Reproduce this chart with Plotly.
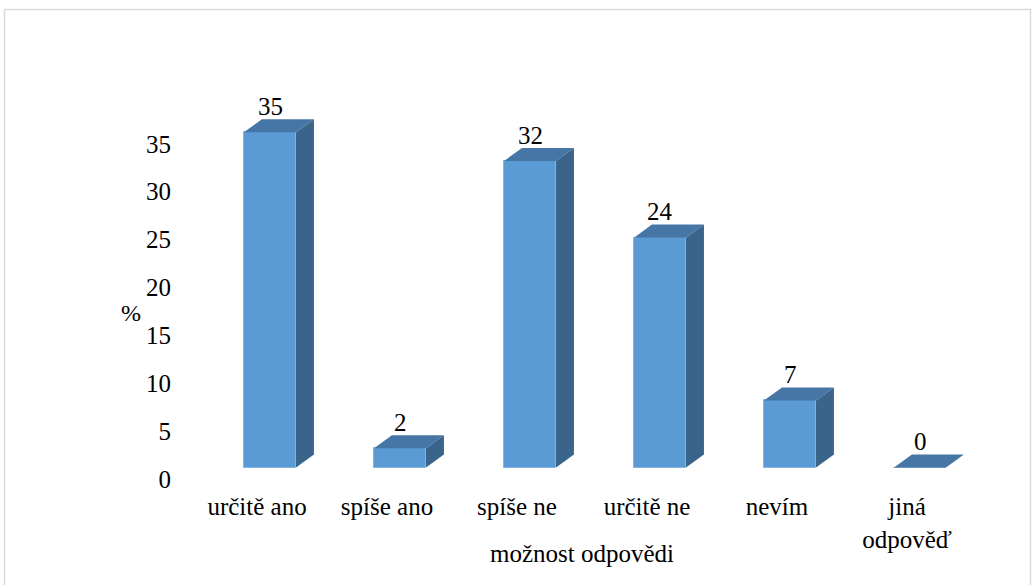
import plotly.graph_objects as go

# Survey answers (percent of respondents)
categories = ["určitě ano", "spíše ano", "spíše ne", "určitě ne", "nevím", "jiná<br>odpověď"]
values = [35, 2, 32, 24, 7, 0]
y_ticks = [0, 5, 10, 15, 20, 25, 30, 35]

FONT = "Liberation Serif, DejaVu Serif, serif"
FRONT = "#5B9BD5"
TOP = "#4676A6"
SIDE = "#3A6489"

# pseudo-3D geometry (in axis units)
FLOOR = 1.2          # lift of the front face above the axis zero
FRONT_L, FRONT_R = -0.1, 0.3   # front face extent relative to the category position
DEPTH_X, DEPTH_Y = 0.138, 1.36  # receding offset of the back edges

xs = list(range(len(categories)))

fig = go.Figure()

# front faces
fig.add_trace(go.Bar(
    x=[x + (FRONT_L + FRONT_R) / 2 for x in xs],
    y=values,
    base=[FLOOR] * len(values),
    width=FRONT_R - FRONT_L,
    marker=dict(color=FRONT, line=dict(color="#86B4E2", width=1)),
    hoverinfo="skip",
    showlegend=False,
))

for x, v in zip(xs, values):
    xl, xr = x + FRONT_L, x + FRONT_R
    yb, yt = FLOOR, FLOOR + v
    # top face
    fig.add_trace(go.Scatter(
        x=[xl, xr, xr + DEPTH_X, xl + DEPTH_X, xl],
        y=[yt, yt, yt + DEPTH_Y, yt + DEPTH_Y, yt],
        fill="toself", fillcolor=TOP, mode="lines", line=dict(width=0),
        hoverinfo="skip", showlegend=False,
    ))
    # side face
    if v > 0:
        fig.add_trace(go.Scatter(
            x=[xr, xr + DEPTH_X, xr + DEPTH_X, xr, xr],
            y=[yb, yb + DEPTH_Y, yt + DEPTH_Y, yt, yb],
            fill="toself", fillcolor=SIDE, mode="lines", line=dict(width=0),
            hoverinfo="skip", showlegend=False,
        ))
    # value label
    fig.add_annotation(
        x=(xl + xr) / 2, y=yt + 2.7, text=str(v), showarrow=False,
        xref="x", yref="y", yanchor="middle",
        font=dict(family=FONT, size=25, color="black"),
    )

fig.add_annotation(
    x=(118.5 - 192) / 780, y=(479 - 313) / 431, xref="paper", yref="paper",
    text="%", showarrow=False, font=dict(family=FONT, size=24, color="black"),
)
fig.add_annotation(
    x=(582 - 192) / 780, y=(479 - 569) / 431, xref="paper", yref="paper",
    text="možnost odpovědi", showarrow=False,
    font=dict(family=FONT, size=25, color="black"),
)

# chart frame
fig.add_shape(
    type="rect", xref="paper", yref="paper",
    x0=(4.5 - 192) / 780, x1=(1030.5 - 192) / 780,
    y0=(479 - 600) / 431, y1=(479 - 9.5) / 431,
    line=dict(color="#D9D9D9", width=1.5), fillcolor="rgba(0,0,0,0)", layer="below",
)

fig.update_layout(
    width=1035, height=585,
    margin=dict(l=192, r=63, t=48, b=106),
    paper_bgcolor="white", plot_bgcolor="white",
    bargap=0,
    font=dict(family=FONT, size=25, color="black"),
    xaxis=dict(
        range=[-0.5, 5.5], tickmode="array", tickvals=xs, ticktext=categories,
        showgrid=False, zeroline=False, showline=False, ticks="",
        ticklabelstandoff=10,
        tickfont=dict(family=FONT, size=25, color="black"),
        fixedrange=True,
    ),
    yaxis=dict(
        range=[0, 45], tickmode="array", tickvals=y_ticks,
        ticktext=[str(t) for t in y_ticks],
        showgrid=False, zeroline=False, showline=False, ticks="",
        ticklabelstandoff=20,
        tickfont=dict(family=FONT, size=25, color="black"),
        fixedrange=True,
    ),
)

fig.write_html("out.html")
